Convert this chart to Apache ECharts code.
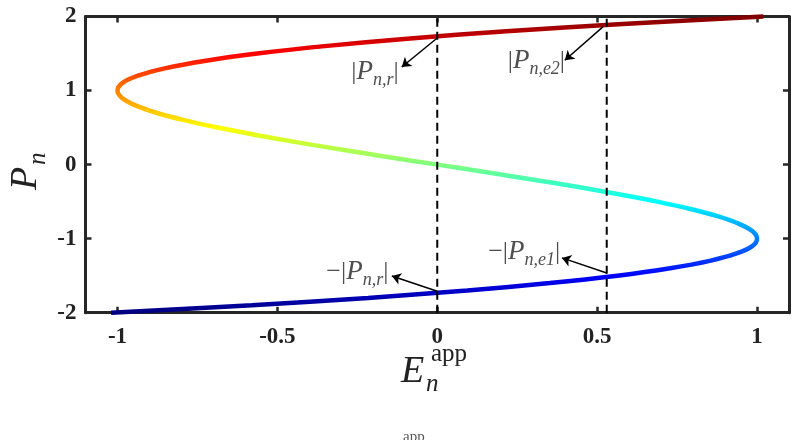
<!DOCTYPE html>
<html><head><meta charset="utf-8">
<script src="https://cdn.jsdelivr.net/npm/echarts@6/dist/echarts.min.js"></script>
<style>html,body{margin:0;padding:0;background:#fff}#c{width:798px;height:440px}</style>
</head><body><div id="c"></div>
<script>
// Polarization P_n (y) and applied field E_n^app (x) along the curve
const pValues = [-2.0,-1.9,-1.8,-1.7,-1.6,-1.5,-1.4,-1.3,-1.2,-1.1,-1.0,-0.9,-0.8,-0.7,-0.6,-0.5,-0.4,-0.3,-0.2,-0.1,0,
  0.1,0.2,0.3,0.4,0.5,0.6,0.7,0.8,0.9,1.0,1.1,1.2,1.3,1.4,1.5,1.6,1.7,1.8,1.9,2.0];
const eValues = [-1.02,-0.58,-0.216,0.094,0.352,0.563,0.728,0.852,0.936,0.985,1.0,0.986,0.944,0.879,0.792,0.688,0.568,0.437,0.296,0.15,0,
  -0.15,-0.296,-0.437,-0.568,-0.688,-0.792,-0.879,-0.944,-0.986,-1.0,-0.985,-0.936,-0.852,-0.728,-0.563,-0.352,-0.094,0.216,0.58,1.02];
// vertical dashed reference lines (E values)
const refE = [0, 0.53];
const xTicks = [-1, -0.5, 0, 0.5, 1];
const yTicks = [-2, -1, 0, 1, 2];
// annotations
const annoLabels = ['{b||}{i|P}{s|n,r}{b||}', '{b||}{i|P}{s|n,e2}{b||}', '{b|−|}{i|P}{s|n,r}{b||}', '{b|−|}{i|P}{s|n,e1}{b||}'];
const annoLabelE = [-0.195, 0.31, -0.25, 0.272];
const annoLabelP = [1.25, 1.40, -1.45, -1.18];
const arrowTailE = [0, 0.518, 0, 0.53];
const arrowTailP = [1.71, 1.86, -1.71, -1.464];
const arrowHeadE = [-0.111, 0.399, -0.142, 0.39];
const arrowHeadP = [1.318, 1.41, -1.504, -1.26];

const jet = ['#00007f','#0000ff','#007fff','#00ffff','#7fff7f','#ffff00','#ff7f00','#ff0000','#7f0000'];
const serif = '"Liberation Serif", "DejaVu Serif", serif';
const axisColor = '#262626';

const chart = echarts.init(document.getElementById('c'));
const curve = pValues.map((p, i) => [eValues[i], p]);

const series = [{
  type: 'line', data: curve, showSymbol: false, smooth: 0.35, clip: false,
  lineStyle: { width: 4.5 }, z: 3
}];
refE.forEach(e => series.push({
  type: 'line', data: [[e, -2], [e, 2]], showSymbol: false, clip: false,
  lineStyle: { color: '#000', width: 2, type: [8, 5] }, z: 4, silent: true
}));
series.push({
  type: 'lines', coordinateSystem: 'cartesian2d', z: 5,
  symbol: ['none', 'arrow'], symbolSize: [6, 9],
  lineStyle: { color: '#000', width: 1.5, opacity: 1 },
  data: arrowTailE.map((e, i) => ({ coords: [[e, arrowTailP[i]], [arrowHeadE[i], arrowHeadP[i]]] }))
});
series.push({
  type: 'scatter', symbolSize: 0, z: 6, silent: true,
  data: annoLabels.map((t, i) => ({ value: [annoLabelE[i], annoLabelP[i]], lbl: t })),
  label: {
    show: true, position: 'inside',
    formatter: p => p.data.lbl,
    rich: {
      b: { fontFamily: serif, fontSize: 26, color: '#222', lineHeight: 34, verticalAlign: 'middle' },
      i: { fontFamily: serif, fontStyle: 'italic', fontSize: 27, color: '#222', lineHeight: 34, verticalAlign: 'middle' },
      s: { fontFamily: serif, fontStyle: 'italic', fontSize: 18, color: '#222', padding: [16, 0, 0, 0], lineHeight: 18, verticalAlign: 'middle' }
    }
  }
});

const tickCommon = { show: true, inside: true, length: 6, lineStyle: { color: axisColor, width: 2.5 } };
const lineCommon = { show: true, onZero: false, lineStyle: { color: axisColor, width: 3 } };
const labelCommon = { fontFamily: serif, fontWeight: 'bold', fontSize: 23, color: '#222' };

chart.setOption({
  animation: false,
  grid: { left: 85.5, right: 9, top: 16.5, bottom: 127.3, containLabel: false },
  visualMap: { show: false, type: 'continuous', dimension: 1, min: -2, max: 2, seriesIndex: 0, inRange: { color: jet } },
  xAxis: [
    { type: 'value', min: -1.1, max: 1.1, position: 'bottom', splitLine: { show: false },
      axisLine: lineCommon, axisTick: Object.assign({ customValues: xTicks }, tickCommon),
      axisLabel: Object.assign({ customValues: xTicks, margin: 13 }, labelCommon) },
    { type: 'value', min: -1.1, max: 1.1, position: 'top', splitLine: { show: false },
      axisLine: lineCommon, axisTick: Object.assign({ customValues: xTicks }, tickCommon),
      axisLabel: { show: false } }
  ],
  yAxis: [
    { type: 'value', min: -2, max: 2, interval: 1, position: 'left', splitLine: { show: false },
      axisLine: lineCommon, axisTick: tickCommon,
      axisLabel: Object.assign({ margin: 9 }, labelCommon) },
    { type: 'value', min: -2, max: 2, interval: 1, position: 'right', splitLine: { show: false },
      axisLine: lineCommon, axisTick: tickCommon, axisLabel: { show: false } }
  ],
  graphic: [
    { type: 'text', left: 401, top: 353, style: { text: 'E', font: 'italic 38px ' + serif, fill: '#222' } },
    { type: 'text', left: 431, top: 342, style: { text: 'app', font: '25px ' + serif, fill: '#222' } },
    { type: 'text', left: 426, top: 372, style: { text: 'n', font: 'italic 25px ' + serif, fill: '#222' } },
    { type: 'group', x: 26, y: 190, rotation: Math.PI / 2, children: [
      { type: 'text', x: 0, y: 0, style: { text: 'P', font: 'italic 38px ' + serif, fill: '#222', textVerticalAlign: 'middle' } },
      { type: 'text', x: 25, y: 12, style: { text: 'n', font: 'italic 25px ' + serif, fill: '#222', textVerticalAlign: 'middle' } }
    ] },
    { type: 'text', left: 403, top: 430, style: { text: 'app', font: '15px ' + serif, fill: '#555' } }
  ],
  series: series
});
</script></body></html>
